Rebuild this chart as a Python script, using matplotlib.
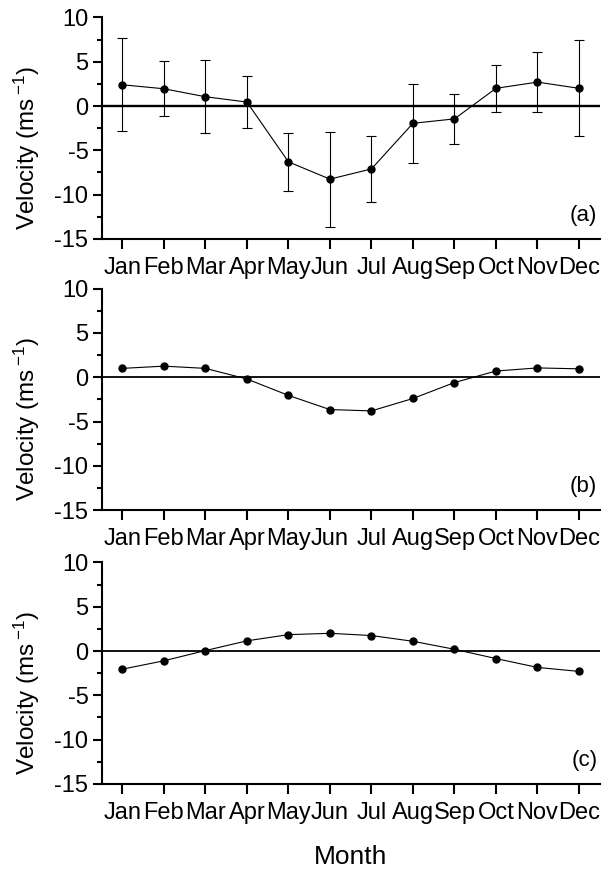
import numpy as np
import matplotlib
matplotlib.use("Agg")
import matplotlib.pyplot as plt
from matplotlib.ticker import MultipleLocator

plt.rcParams["font.family"] = ["Liberation Sans", "DejaVu Sans"]
plt.rcParams["mathtext.fontset"] = "custom"
plt.rcParams["mathtext.rm"] = "Liberation Sans"
plt.rcParams["mathtext.it"] = "Liberation Sans:italic"
plt.rcParams["axes.unicode_minus"] = False

# ── Data ──────────────────────────────────────────────────────────────────────
months = ["Jan", "Feb", "Mar", "Apr", "May", "Jun",
          "Jul", "Aug", "Sep", "Oct", "Nov", "Dec"]

vel_a = [2.4, 1.95, 1.05, 0.45, -6.3, -8.25, -7.1, -1.95, -1.45, 2.0, 2.7, 2.0]
err_a = [5.25, 3.1, 4.15, 2.9, 3.3, 5.35, 3.75, 4.45, 2.85, 2.65, 3.4, 5.4]
vel_b = [1.0, 1.25, 1.0, -0.2, -2.05, -3.65, -3.8, -2.4, -0.6, 0.7, 1.05, 0.95]
vel_c = [-2.05, -1.1, 0.05, 1.15, 1.85, 2.0, 1.75, 1.1, 0.2, -0.85, -1.85, -2.3]

panel_tags = ["(a)", "(b)", "(c)"]

x = np.arange(1, len(months) + 1)

# ── Layout ────────────────────────────────────────────────────────────────────
fig = plt.figure(figsize=(6.12, 8.72), dpi=100)
left, width, height = 0.166, 0.814, 0.254
bottoms = [0.726, 0.415, 0.101]
axes = [fig.add_axes([left, b, width, height]) for b in bottoms]

series = [vel_a, vel_b, vel_c]
zero_lw = [1.7, 1.3, 1.3]

for i, ax in enumerate(axes):
    ax.axhline(0, color="black", linewidth=zero_lw[i], zorder=1)
    if i == 0:
        ax.errorbar(x, series[i], yerr=err_a, fmt="o-", color="black",
                    markersize=5, linewidth=0.8, elinewidth=0.8,
                    capsize=3.3, capthick=0.8, zorder=3)
    else:
        ax.plot(x, series[i], "o-", color="black", markersize=5,
                linewidth=0.8, zorder=3)

    ax.set_xlim(0.5, 12.5)
    ax.set_ylim(-15, 10)
    ax.set_xticks(x)
    ax.set_xticklabels(months)
    ax.yaxis.set_major_locator(MultipleLocator(5))
    ax.yaxis.set_minor_locator(MultipleLocator(2.5))

    for side in ["top", "right"]:
        ax.spines[side].set_visible(False)
    for side in ["left", "bottom"]:
        ax.spines[side].set_linewidth(1.5)

    ax.tick_params(axis="both", which="major", direction="out",
                   width=1.5, labelsize=17)
    ax.tick_params(axis="y", which="major", length=6.5, pad=3)
    ax.tick_params(axis="y", which="minor", direction="out",
                   length=3.5, width=1.5)
    ax.tick_params(axis="x", which="major", length=7, pad=6)

    ax.set_ylabel("Velocity (ms$\\,^{-1}$)", fontsize=17.5)
    ax.yaxis.set_label_coords(-0.12, 0.41)
    ax.text(0.995, 0.108, panel_tags[i], transform=ax.transAxes,
            ha="right", va="center", fontsize=16)

axes[-1].set_xlabel("Month", fontsize=19, labelpad=15)

fig.savefig("out.png", dpi=100)
